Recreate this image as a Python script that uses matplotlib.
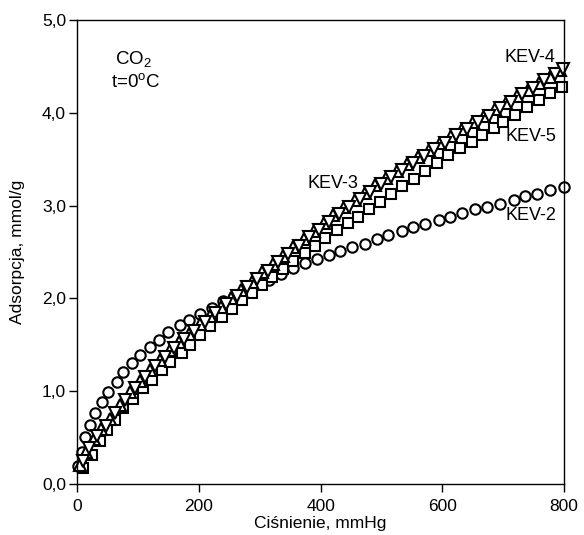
import matplotlib
matplotlib.use('Agg')
import matplotlib.pyplot as plt
from matplotlib.ticker import FuncFormatter

plt.rcParams['font.family'] = ['Liberation Sans', 'DejaVu Sans']
plt.rcParams['mathtext.fontset'] = 'custom'
plt.rcParams['mathtext.rm'] = 'Liberation Sans'
plt.rcParams['mathtext.it'] = 'Liberation Sans:italic'

# KEV-2 (circles)
p_kev2 = [2, 8, 13, 21, 30, 41, 51, 65, 76, 90, 103, 120, 134, 150, 169, 183, 202,
          221, 240, 258, 277, 296, 315, 335, 355, 375, 394, 413, 432, 451, 473, 492,
          511, 533, 552, 572, 594, 613, 632, 654, 673, 695, 717, 736, 755, 777, 799]
a_kev2 = [0.19, 0.34, 0.51, 0.64, 0.76, 0.88, 0.99, 1.10, 1.21, 1.30, 1.39, 1.48, 1.55, 1.64, 1.71, 1.77, 1.83,
          1.90, 1.97, 2.03, 2.09, 2.15, 2.20, 2.26, 2.33, 2.38, 2.43, 2.47, 2.51, 2.55, 2.59, 2.64,
          2.68, 2.73, 2.77, 2.80, 2.84, 2.88, 2.92, 2.96, 2.99, 3.02, 3.06, 3.10, 3.13, 3.17, 3.20]

# KEV-3 (triangles up)
p_kev3 = [4, 14, 27, 40, 54, 70, 87, 103, 120, 137, 153, 168, 183, 202, 218, 236, 253, 270,
          287, 304, 321, 338, 355, 372, 389, 405, 421, 439, 456, 473, 490, 508, 525, 542,
          560, 578, 596, 614, 632, 650, 668, 686, 704, 722, 740, 758, 776, 794]
a_kev3 = [0.20, 0.34, 0.48, 0.59, 0.70, 0.85, 0.99, 1.11, 1.23, 1.34, 1.44, 1.53, 1.62, 1.72, 1.81, 1.91, 2.00, 2.09,
          2.18, 2.28, 2.37, 2.46, 2.55, 2.64, 2.73, 2.81, 2.90, 2.98, 3.06, 3.14, 3.22, 3.30, 3.37, 3.45,
          3.52, 3.60, 3.67, 3.75, 3.83, 3.90, 3.97, 4.04, 4.11, 4.18, 4.25, 4.32, 4.39, 4.46]

# KEV-4 (triangles down)
p_kev4 = [9, 20, 33, 47, 62, 78, 95, 111, 128, 145, 160, 175, 192, 210, 227, 245, 262, 279,
          296, 313, 330, 347, 364, 381, 397, 413, 430, 447, 464, 481, 499, 516, 533, 551,
          569, 587, 605, 623, 641, 659, 677, 695, 713, 731, 749, 767, 785, 798]
a_kev4 = [0.25, 0.39, 0.52, 0.63, 0.76, 0.90, 1.03, 1.15, 1.27, 1.37, 1.47, 1.56, 1.65, 1.75, 1.84, 1.94, 2.03, 2.12,
          2.21, 2.30, 2.39, 2.48, 2.57, 2.66, 2.74, 2.82, 2.91, 2.99, 3.07, 3.15, 3.23, 3.31, 3.38, 3.46,
          3.53, 3.61, 3.68, 3.76, 3.83, 3.90, 3.97, 4.05, 4.12, 4.20, 4.27, 4.35, 4.42, 4.47]

# KEV-5 (squares)
p_kev5 = [10, 24, 38, 49, 62, 76, 92, 109, 123, 139, 153, 172, 186, 202, 218, 238, 254, 271,
          287, 303, 320, 339, 355, 375, 391, 407, 427, 445, 462, 480, 497, 515, 534, 553,
          572, 591, 610, 629, 648, 665, 684, 700, 720, 739, 758, 777, 796]
a_kev5 = [0.17, 0.31, 0.46, 0.58, 0.69, 0.82, 0.92, 1.03, 1.12, 1.23, 1.32, 1.41, 1.50, 1.61, 1.70, 1.80, 1.89, 1.98,
          2.06, 2.14, 2.23, 2.32, 2.40, 2.49, 2.57, 2.65, 2.74, 2.81, 2.88, 2.96, 3.04, 3.12, 3.21, 3.29,
          3.37, 3.46, 3.55, 3.62, 3.69, 3.76, 3.84, 3.90, 3.98, 4.06, 4.14, 4.21, 4.28]

fig = plt.figure(figsize=(5.84, 5.35), dpi=100)
ax = fig.add_axes([0.132, 0.0953, 0.834, 0.8673])

style = dict(linestyle='none', markerfacecolor='white', markeredgecolor='black',
             markeredgewidth=1.5, clip_on=False)
ax.plot(p_kev2, a_kev2, marker='o', markersize=7.5, **style)
ax.plot(p_kev5, a_kev5, marker='s', markersize=7, **style)
ax.plot(p_kev3, a_kev3, marker='^', markersize=8, **style)
ax.plot(p_kev4, a_kev4, marker='v', markersize=8, **style)

ax.set_xlim(0, 800)
ax.set_ylim(0, 5)
ax.set_xticks([0, 200, 400, 600, 800])
ax.set_yticks([0, 1, 2, 3, 4, 5])
ax.yaxis.set_major_formatter(FuncFormatter(lambda v, pos: f'{v:.1f}'.replace('.', ',')))
ax.tick_params(direction='out', length=6, width=1, labelsize=12.5)
ax.tick_params(axis='x', pad=5)
ax.tick_params(axis='y', pad=2)
for s in ax.spines.values():
    s.set_linewidth(1.0)

ax.set_xlabel('Ciśnienie, mmHg', fontsize=12.5, labelpad=1)
ax.set_ylabel('Adsorpcja, mmol/g', fontsize=12.5, labelpad=12)

ax.text(0.115, 0.905, 'CO$_2$', transform=ax.transAxes, ha='center', fontsize=13.5)
ax.text(0.12, 0.855, 't=0$^{\\rm o}$C', transform=ax.transAxes, ha='center', fontsize=13.5)

ax.text(785, 4.60, 'KEV-4', ha='right', va='center', fontsize=13)
ax.text(788, 3.74, 'KEV-5', ha='right', va='center', fontsize=13)
ax.text(788, 2.89, 'KEV-2', ha='right', va='center', fontsize=13)
ax.text(420, 3.24, 'KEV-3', ha='center', va='center', fontsize=13)

fig.savefig('out.png', dpi=100)
